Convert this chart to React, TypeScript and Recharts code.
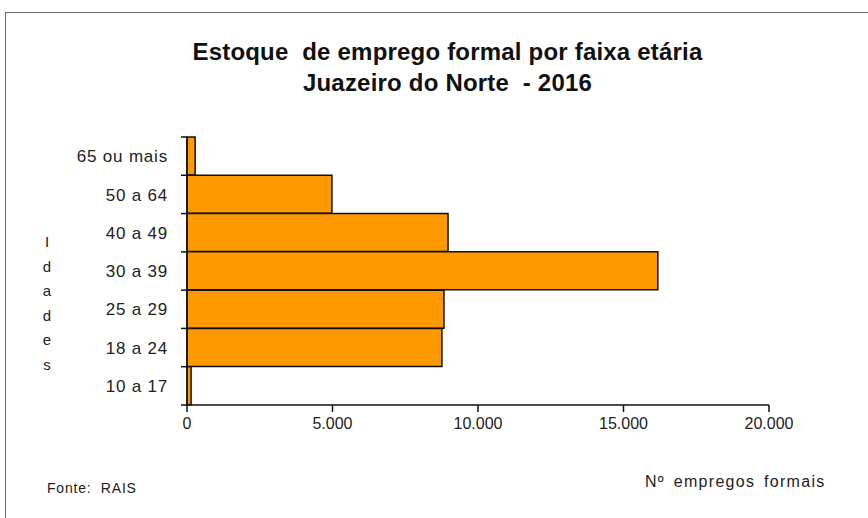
import { BarChart, Bar, XAxis, YAxis } from "recharts";

const faixas = ["65 ou mais", "50 a 64", "40 a 49", "30 a 39", "25 a 29", "18 a 24", "10 a 17"];
const empregos = [280, 4980, 8970, 16180, 8830, 8760, 140];
const xTicks = [0, 5000, 10000, 15000, 20000];

const data = faixas.map((faixa, i) => ({ faixa, empregos: empregos[i] }));

const font = '"Liberation Sans", Arial, sans-serif';
const fmt = (v: number) => v.toLocaleString("pt-BR");

const LABEL_GAP = 19;

// label + tick marks on the band edges (like the original chart)
function FaixaTick(props: any) {
  const { x, y, payload, index, visibleTicksCount } = props;
  const off = payload?.offset ?? 0;
  const x0 = x + LABEL_GAP - 6;
  const x1 = x + LABEL_GAP;
  return (
    <g>
      <text
        x={x}
        y={y}
        dy="0.36em"
        textAnchor="end"
        fill="#222"
        fontSize={17}
        fontFamily={font}
        letterSpacing={0.8}
      >
        {payload.value}
      </text>
      <line x1={x0} x2={x1} y1={y - off} y2={y - off} stroke="#111" strokeWidth={1.5} />
      {index === visibleTicksCount - 1 && (
        <line x1={x0} x2={x1} y1={y + off} y2={y + off} stroke="#111" strokeWidth={1.5} />
      )}
    </g>
  );
}

export default function App() {
  return (
    <div
      style={{
        position: "absolute",
        left: 0,
        top: 0,
        width: 868,
        height: 518,
        overflow: "hidden",
        background: "#fff",
        fontFamily: font,
      }}
    >
      <div
        style={{
          position: "absolute",
          left: 5,
          top: 12,
          width: 880,
          height: 530,
          border: "1px solid #666",
        }}
      />
      <div
        style={{
          position: "absolute",
          left: 0,
          width: 895,
          top: 36,
          textAlign: "center",
          fontWeight: "bold",
          fontSize: 24,
          lineHeight: "31px",
          color: "#111",
          letterSpacing: 0.2,
        }}
      >
        Estoque&nbsp; de emprego formal por faixa etária
        <br />
        Juazeiro do Norte&nbsp; - 2016
      </div>

      <BarChart
        width={868}
        height={518}
        data={data}
        layout="vertical"
        barCategoryGap={0}
        margin={{ top: 137, right: 99, bottom: 0, left: 67 }}
        style={{ position: "absolute", left: 0, top: 0 }}
      >
        <XAxis
          type="number"
          domain={[0, 20000]}
          ticks={xTicks}
          tickFormatter={fmt}
          height={113}
          stroke="#111"
          strokeWidth={1.5}
          tickSize={7}
          tickMargin={6}
          tick={{ fill: "#222", fontSize: 16, fontFamily: font }}
        />
        <YAxis
          type="category"
          dataKey="faixa"
          width={120}
          stroke="#111"
          strokeWidth={1.5}
          tickLine={false}
          tickSize={0}
          tickMargin={LABEL_GAP}
          tick={<FaixaTick />}
        />
        <Bar
          dataKey="empregos"
          fill="#FF9900"
          stroke="#111"
          strokeWidth={1.5}
          isAnimationActive={false}
        />
      </BarChart>

      <div
        style={{
          position: "absolute",
          left: 40,
          top: 230,
          width: 14,
          textAlign: "center",
          fontSize: 15,
          lineHeight: "24.5px",
          color: "#222",
        }}
      >
        {"Idades".split("").map((c, i) => (
          <div key={i}>{c}</div>
        ))}
      </div>
      <div
        style={{ position: "absolute", left: 47, top: 480, fontSize: 14, letterSpacing: 0.8, color: "#222" }}
      >
        Fonte:&nbsp; RAIS
      </div>
      <div
        style={{
          position: "absolute",
          left: 645,
          top: 473,
          fontSize: 16,
          letterSpacing: 1.3,
          wordSpacing: 3,
          color: "#222",
        }}
      >
        Nº empregos formais
      </div>
    </div>
  );
}
